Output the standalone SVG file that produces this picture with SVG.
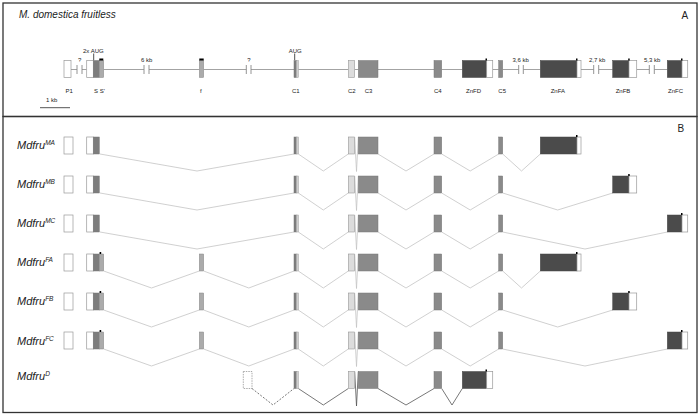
<svg xmlns="http://www.w3.org/2000/svg" xmlns:xlink="http://www.w3.org/1999/xlink" width="699" height="417" viewBox="0 0 699 417">
<style>
.frame{fill:none;stroke:#333;stroke-width:1.3}
.bl{stroke:#999;stroke-width:0.9;fill:none}
.tk{stroke:#888;stroke-width:0.9}
.w{fill:#fff;stroke:#999;stroke-width:0.7}
.g{fill:#7d7d7d;stroke:#777;stroke-width:0.5}
.lt{fill:#ababab;stroke:#888;stroke-width:0.5}
.lt2{fill:#cfcfcf;stroke:#999;stroke-width:0.5}
.c2{fill:#dcdcdc;stroke:#999;stroke-width:0.6}
.m{fill:#8a8a8a;stroke:#777;stroke-width:0.5}
.dk{fill:#4b4b4b;stroke:#444;stroke-width:0.5}
.dot{fill:#000}
.dash{fill:#fff;stroke:#888;stroke-width:0.7;stroke-dasharray:1.5 1}
.lab{font-family:"Liberation Sans",Arial,sans-serif;font-size:6px;fill:#222}
.ttl{font-family:"Liberation Sans",Arial,sans-serif;font-size:10px;font-style:italic;fill:#222}
.pl{font-family:"Liberation Sans",Arial,sans-serif;font-size:10px;fill:#222}
.rl{font-family:"Liberation Sans",Arial,sans-serif;font-size:11px;font-style:italic;fill:#222}
.sp{fill:none;stroke:#c4c4c4;stroke-width:0.8}
.spd{fill:none;stroke:#555;stroke-width:0.8}
.spdd{fill:none;stroke:#555;stroke-width:0.8;stroke-dasharray:2 1.5}
</style>
<defs>
<g id="P1"><rect class="w" x="64" y="0" width="9" height="17"/></g>
<g id="S"><rect class="w" x="86.7" y="0" width="6.6" height="17"/><rect class="g" x="93.3" y="0" width="6" height="17"/></g>
<g id="Sp"><rect class="lt" x="99.3" y="0" width="4.4" height="17"/><rect class="dot" x="99.6" y="-2" width="1.6" height="2"/></g>
<g id="f"><rect class="lt" x="199.3" y="0" width="4.4" height="17"/></g>
<g id="C1"><rect class="g" x="294" y="0" width="2.3" height="17"/><rect class="lt2" x="296.3" y="0" width="2" height="17"/></g>
<g id="C2"><rect class="c2" x="348.3" y="0" width="6.4" height="17"/></g>
<g id="C3"><rect class="m" x="358.3" y="0" width="19.7" height="17"/></g>
<g id="C4"><rect class="m" x="434" y="0" width="7.7" height="17"/></g>
<g id="C5"><rect class="m" x="498.7" y="0" width="4" height="17"/></g>
<g id="ZnFD"><rect class="dk" x="462.3" y="0" width="24.4" height="17"/><rect class="w" x="486.7" y="0" width="6" height="17"/><rect class="dot" x="485.5" y="-2" width="1.5" height="2"/></g>
<g id="ZnFA"><rect class="dk" x="540.3" y="0" width="36.7" height="17"/><rect class="w" x="577" y="0" width="4" height="17"/><rect class="dot" x="576" y="-2" width="1.5" height="2"/></g>
<g id="ZnFB"><rect class="dk" x="612.7" y="0" width="16.3" height="17"/><rect class="w" x="629" y="0" width="7.7" height="17"/><rect class="dot" x="628.2" y="-2" width="1.5" height="2"/></g>
<g id="ZnFC"><rect class="dk" x="667.3" y="0" width="14.7" height="17"/><rect class="w" x="682" y="0" width="5.7" height="17"/><rect class="dot" x="681" y="-2" width="1.5" height="2"/></g>
</defs>

<rect class="frame" x="3" y="3" width="694" height="113.5" stroke="#666"/>
<rect class="frame" x="3" y="116.5" width="694" height="296"/>

<!-- Panel A -->
<g id="panelA-labels">
<text class="ttl" x="19" y="18">M. domestica fruitless</text>
<text class="pl" x="681.5" y="19">A</text>
<text class="lab" x="83" y="52.5">2x AUG</text>
<text class="lab" x="288.7" y="52.5">AUG</text>
<text class="lab" x="78" y="62">?</text>
<text class="lab" x="247.3" y="62">?</text>
<text class="lab" x="141" y="62">6 kb</text>
<text class="lab" x="512.5" y="62">3,6 kb</text>
<text class="lab" x="589" y="62">2,7 kb</text>
<text class="lab" x="644" y="62">5,3 kb</text>
<text class="lab" x="65.5" y="92.5">P1</text>
<text class="lab" x="94" y="92.5">S S'</text>
<text class="lab" x="200" y="92.5">f</text>
<text class="lab" x="292" y="92.5">C1</text>
<text class="lab" x="348" y="92.5">C2</text>
<text class="lab" x="364.7" y="92.5">C3</text>
<text class="lab" x="434" y="92.5">C4</text>
<text class="lab" x="466" y="92.5">ZnFD</text>
<text class="lab" x="498.3" y="92.5">C5</text>
<text class="lab" x="550.7" y="92.5">ZnFA</text>
<text class="lab" x="615.7" y="92.5">ZnFB</text>
<text class="lab" x="668" y="92.5">ZnFC</text>
<text class="lab" x="46" y="102">1 kb</text>
</g>
<g id="connectors-A">
<path class="bl" d="M71,69.5H77M82,69.5H86.7M103.7,69.5H144M149,69.5H199.3M203.7,69.5H246.3M251,69.5H294M298.3,69.5H348.3M354.7,69.5H358.3M378,69.5H434M441.7,69.5H462.3M492.7,69.5H498.7M502.7,69.5H518.7M523.3,69.5H540.3M581,69.5H593.7M598.7,69.5H612.7M636.7,69.5H649.3M654.3,69.5H667.3"/>
<path class="tk" d="M77,65V74M82,65V74M144,65V74M149,65V74M246.3,65V74M251,65V74M518.7,65V74M523.3,65V74M593.7,65V74M598.7,65V74M649.3,65V74M654.3,65V74"/>
<path stroke="#222" stroke-width="0.8" d="M93.7,53.5V60M294.7,53.5V60"/>
<path stroke="#555" stroke-width="1" d="M40,107.7H70"/>
</g>
<g id="geneA" transform="translate(0,60.5)">
<rect class="w" x="64" y="0" width="7" height="17"/>
<use xlink:href="#S"/>
<rect class="lt" x="99.3" y="0" width="4.4" height="17"/><rect class="dot" x="99.3" y="-2" width="4" height="2"/>
<use xlink:href="#f"/><rect class="dot" x="199.3" y="-2" width="4.4" height="2"/>
<use xlink:href="#C1"/><use xlink:href="#C2"/><use xlink:href="#C3"/><use xlink:href="#C4"/>
<use xlink:href="#ZnFD"/><use xlink:href="#C5"/><use xlink:href="#ZnFA"/><use xlink:href="#ZnFB"/><use xlink:href="#ZnFC"/>
</g>

<!-- Panel B -->
<text class="pl" x="677.5" y="131.7">B</text>
<g id="connectors">
<g transform="translate(0,154)">
<polyline class="sp" points="100,0 197,17 294,0"/>
<polyline class="sp" points="298.3,0 323.3,17 348.3,0"/>
<polyline class="sp" points="354.7,-17 356.5,17.5 358.3,-17"/>
<polyline class="sp" points="378,0 406,17 434,0"/>
<polyline class="sp" points="441.7,0 470.2,17 498.7,0"/>
<polyline class="sp" points="502.7,0 521.5,17 540.3,0"/>
</g>
<g transform="translate(0,193)">
<polyline class="sp" points="100,0 197,17 294,0"/>
<polyline class="sp" points="298.3,0 323.3,17 348.3,0"/>
<polyline class="sp" points="354.7,-17 356.5,17.5 358.3,-17"/>
<polyline class="sp" points="378,0 406,17 434,0"/>
<polyline class="sp" points="441.7,0 470.2,17 498.7,0"/>
<polyline class="sp" points="502.7,0 557.7,17 612.7,0"/>
</g>
<g transform="translate(0,232)">
<polyline class="sp" points="100,0 197,17 294,0"/>
<polyline class="sp" points="298.3,0 323.3,17 348.3,0"/>
<polyline class="sp" points="354.7,-17 356.5,17.5 358.3,-17"/>
<polyline class="sp" points="378,0 406,17 434,0"/>
<polyline class="sp" points="441.7,0 470.2,17 498.7,0"/>
<polyline class="sp" points="502.7,0 585,17 667.3,0"/>
</g>
<g transform="translate(0,271)">
<polyline class="sp" points="103.7,0 151.5,17 199.3,0"/>
<polyline class="sp" points="203.7,0 248.8,17 294,0"/>
<polyline class="sp" points="298.3,0 323.3,17 348.3,0"/>
<polyline class="sp" points="354.7,-17 356.5,17.5 358.3,-17"/>
<polyline class="sp" points="378,0 406,17 434,0"/>
<polyline class="sp" points="441.7,0 470.2,17 498.7,0"/>
<polyline class="sp" points="502.7,0 521.5,17 540.3,0"/>
</g>
<g transform="translate(0,310)">
<polyline class="sp" points="103.7,0 151.5,17 199.3,0"/>
<polyline class="sp" points="203.7,0 248.8,17 294,0"/>
<polyline class="sp" points="298.3,0 323.3,17 348.3,0"/>
<polyline class="sp" points="354.7,-17 356.5,17.5 358.3,-17"/>
<polyline class="sp" points="378,0 406,17 434,0"/>
<polyline class="sp" points="441.7,0 470.2,17 498.7,0"/>
<polyline class="sp" points="502.7,0 557.7,17 612.7,0"/>
</g>
<g transform="translate(0,349)">
<polyline class="sp" points="103.7,0 151.5,17 199.3,0"/>
<polyline class="sp" points="203.7,0 248.8,17 294,0"/>
<polyline class="sp" points="298.3,0 323.3,17 348.3,0"/>
<polyline class="sp" points="354.7,-17 356.5,17.5 358.3,-17"/>
<polyline class="sp" points="378,0 406,17 434,0"/>
<polyline class="sp" points="441.7,0 470.2,17 498.7,0"/>
<polyline class="sp" points="502.7,0 585,17 667.3,0"/>
</g>
<g transform="translate(0,388.5)">
<polyline class="spdd" points="252,0 273,16.5 294,0"/>
<polyline class="spd" points="298.3,0 323.3,16.5 348.3,0"/>
<polyline class="spd" points="354.7,-17 356.5,17.5 358.3,-17"/>
<polyline class="spd" points="378,0 406,16.5 434,0"/>
<polyline class="spd" points="441.7,0 452,16.5 462.3,0"/>
</g>
</g>

<g id="row-MA">
<text class="rl" x="17" y="149">Mdfru<tspan font-size="6.5" dy="-4.5">MA</tspan></text>
<g transform="translate(0,137)"><use xlink:href="#P1"/><use xlink:href="#S"/><use xlink:href="#C1"/><use xlink:href="#C2"/><use xlink:href="#C3"/><use xlink:href="#C4"/><use xlink:href="#C5"/><use xlink:href="#ZnFA"/></g>
</g>
<g id="row-MB">
<text class="rl" x="17" y="188">Mdfru<tspan font-size="6.5" dy="-4.5">MB</tspan></text>
<g transform="translate(0,176)"><use xlink:href="#P1"/><use xlink:href="#S"/><use xlink:href="#C1"/><use xlink:href="#C2"/><use xlink:href="#C3"/><use xlink:href="#C4"/><use xlink:href="#C5"/><use xlink:href="#ZnFB"/></g>
</g>
<g id="row-MC">
<text class="rl" x="17" y="227">Mdfru<tspan font-size="6.5" dy="-4.5">MC</tspan></text>
<g transform="translate(0,215)"><use xlink:href="#P1"/><use xlink:href="#S"/><use xlink:href="#C1"/><use xlink:href="#C2"/><use xlink:href="#C3"/><use xlink:href="#C4"/><use xlink:href="#C5"/><use xlink:href="#ZnFC"/></g>
</g>
<g id="row-FA">
<text class="rl" x="17" y="266">Mdfru<tspan font-size="6.5" dy="-4.5">FA</tspan></text>
<g transform="translate(0,254)"><use xlink:href="#P1"/><use xlink:href="#S"/><use xlink:href="#Sp"/><use xlink:href="#f"/><use xlink:href="#C1"/><use xlink:href="#C2"/><use xlink:href="#C3"/><use xlink:href="#C4"/><use xlink:href="#C5"/><use xlink:href="#ZnFA"/></g>
</g>
<g id="row-FB">
<text class="rl" x="17" y="305">Mdfru<tspan font-size="6.5" dy="-4.5">FB</tspan></text>
<g transform="translate(0,293)"><use xlink:href="#P1"/><use xlink:href="#S"/><use xlink:href="#Sp"/><use xlink:href="#f"/><use xlink:href="#C1"/><use xlink:href="#C2"/><use xlink:href="#C3"/><use xlink:href="#C4"/><use xlink:href="#C5"/><use xlink:href="#ZnFB"/></g>
</g>
<g id="row-FC">
<text class="rl" x="17" y="345">Mdfru<tspan font-size="6.5" dy="-4.5">FC</tspan></text>
<g transform="translate(0,332)"><use xlink:href="#P1"/><use xlink:href="#S"/><use xlink:href="#Sp"/><use xlink:href="#f"/><use xlink:href="#C1"/><use xlink:href="#C2"/><use xlink:href="#C3"/><use xlink:href="#C4"/><use xlink:href="#C5"/><use xlink:href="#ZnFC"/></g>
</g>
<g id="row-D">
<text class="rl" x="17" y="380">Mdfru<tspan font-size="6.5" dy="-4.5">D</tspan></text>
<g transform="translate(0,371.5)"><rect class="dash" x="243.3" y="0" width="8.7" height="17"/><use xlink:href="#C1"/><use xlink:href="#C2"/><use xlink:href="#C3"/><use xlink:href="#C4"/><use xlink:href="#ZnFD"/></g>
</g>
</svg>
